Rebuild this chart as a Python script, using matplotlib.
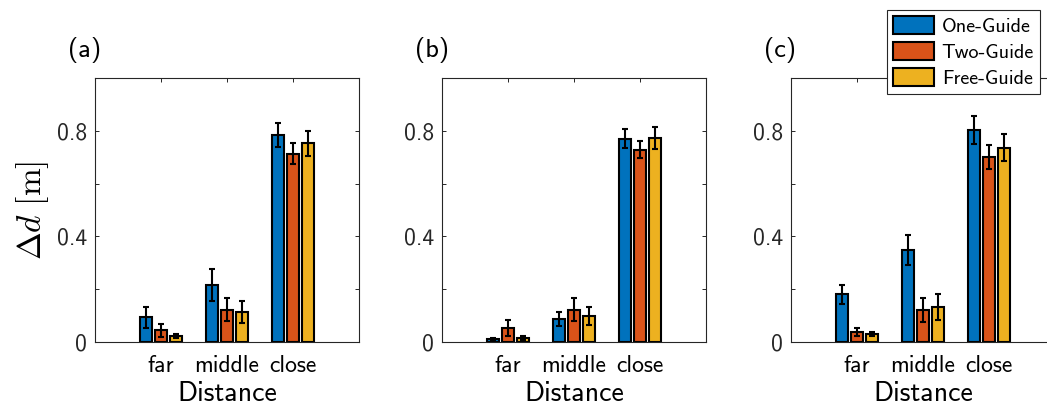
import numpy as np
import matplotlib
matplotlib.use("Agg")
import matplotlib.pyplot as plt
from matplotlib.patches import Patch

plt.rcParams['font.family'] = ['cmss10', 'DejaVu Sans']
plt.rcParams['mathtext.fontset'] = 'cm'
plt.rcParams['axes.unicode_minus'] = False

# distance categories and guide conditions
categories = ["far", "middle", "close"]
series = ["One-Guide", "Two-Guide", "Free-Guide"]
colors = ["#0072BD", "#D95319", "#EDB120"]
panel_names = ["(a)", "(b)", "(c)"]

# mean delta d [m], rows = guide condition, cols = far/middle/close
mean_a = [[0.093, 0.216, 0.785],
          [0.044, 0.122, 0.713],
          [0.024, 0.114, 0.753]]
err_a = [[0.040, 0.060, 0.046],
         [0.025, 0.043, 0.039],
         [0.008, 0.043, 0.048]]

mean_b = [[0.011, 0.087, 0.770],
          [0.053, 0.122, 0.729],
          [0.015, 0.098, 0.774]]
err_b = [[0.003, 0.027, 0.036],
         [0.030, 0.043, 0.033],
         [0.008, 0.035, 0.042]]

mean_c = [[0.180, 0.348, 0.804],
          [0.038, 0.122, 0.700],
          [0.030, 0.134, 0.736]]
err_c = [[0.036, 0.057, 0.053],
         [0.016, 0.046, 0.045],
         [0.009, 0.049, 0.051]]

means = [mean_a, mean_b, mean_c]
errs = [err_a, err_b, err_c]

W, H = 1047, 407
fig = plt.figure(figsize=(W / 100, H / 100), dpi=100)

lefts = [95, 442, 791]
axw, axh = 264, 264
axbottom = 342
gray = "#262626"

x = np.arange(1, 4)
offsets = [-0.222, 0.0, 0.222]

for p in range(3):
    ax = fig.add_axes([lefts[p] / W, (H - axbottom) / H, axw / W, axh / H])
    for s in range(3):
        ax.bar(x + offsets[s], means[p][s], width=0.18, color=colors[s],
               edgecolor="black", linewidth=1.5, zorder=2)
        ax.errorbar(x + offsets[s], means[p][s], yerr=errs[p][s], fmt="none",
                    ecolor="black", elinewidth=1.5, capsize=2, capthick=1.5, zorder=3)
    ax.set_xlim(0, 4)
    ax.set_ylim(0, 1)
    ax.set_xticks(x)
    ax.set_xticklabels(categories)
    ax.set_yticks(np.arange(0, 1.01, 0.2))
    ax.set_yticklabels(["0", "", "0.4", "", "0.8", ""])
    ax.tick_params(direction="in", length=3, width=0.7, color=gray,
                   labelcolor=gray, top=True, right=True, labelsize=17)
    ax.tick_params(axis="x", pad=9, labelcolor="black")
    ax.tick_params(axis="y", pad=6)
    for sp in ax.spines.values():
        sp.set_color(gray)
        sp.set_linewidth(0.8)
    ax.set_xlabel("Distance", fontsize=20, labelpad=3)
    ax.text(-0.102, 1.106, panel_names[p], transform=ax.transAxes,
            fontsize=19, ha="left", va="center")
    if p == 0:
        ax.set_ylabel(r"$\Delta d\ [\mathrm{m}]$", fontsize=24, labelpad=4)

handles = [Patch(facecolor=c, edgecolor="black", linewidth=1.5) for c in colors]
leg = fig.legend(handles, series, loc="upper right",
                 bbox_to_anchor=(1040 / W, 1 - 10 / H), fontsize=14.5,
                 handlelength=2.0, handleheight=1.0, labelspacing=0.3,
                 handletextpad=0.4, borderpad=0.3, borderaxespad=0,
                 fancybox=False, framealpha=1)
leg.get_frame().set_edgecolor(gray)
leg.get_frame().set_linewidth(0.8)

fig.savefig("out.png", dpi=100)
